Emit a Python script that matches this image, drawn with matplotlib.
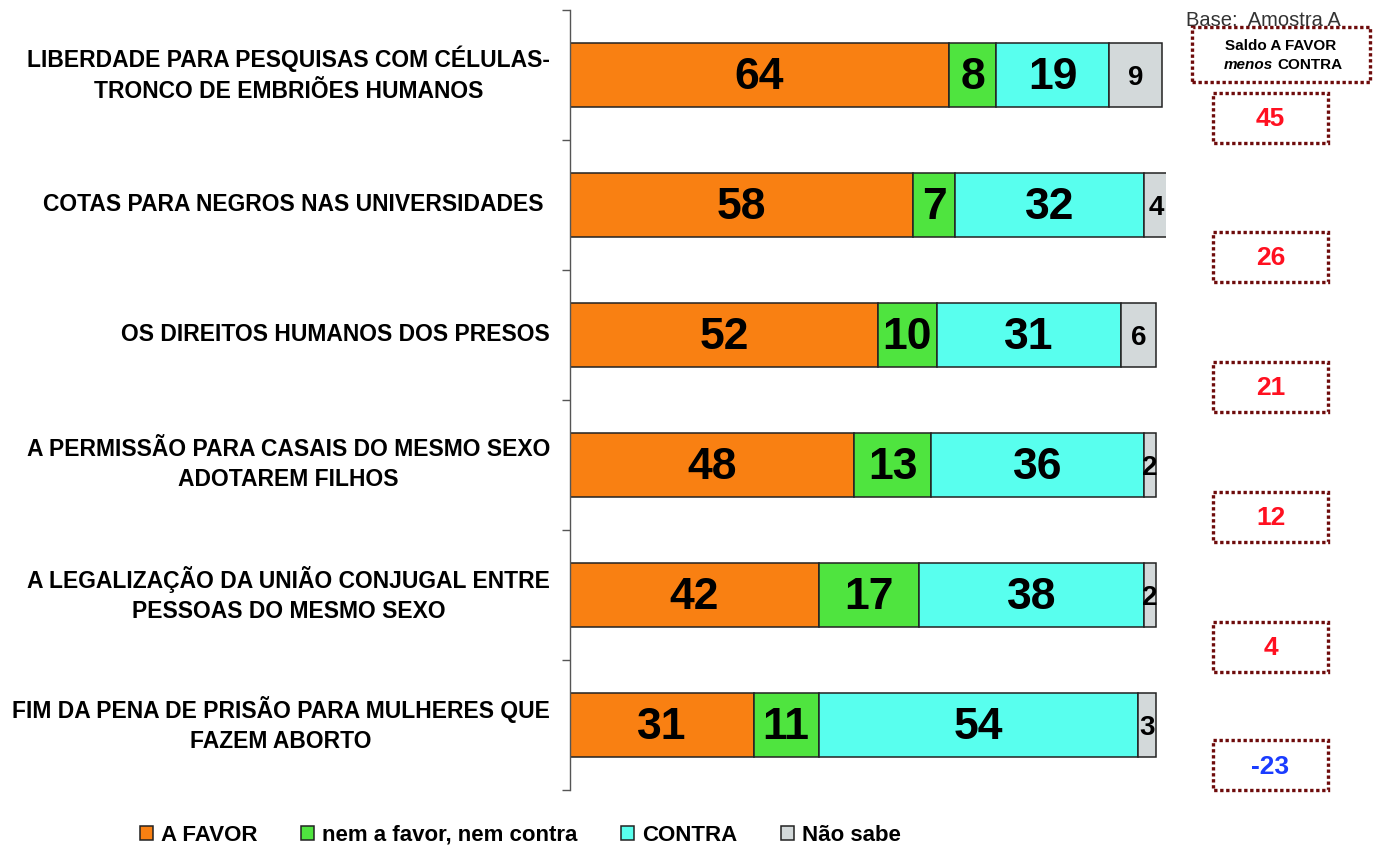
import matplotlib
matplotlib.use('Agg')
import matplotlib.pyplot as plt
import matplotlib.transforms as mtransforms
from matplotlib.patches import Rectangle
import numpy as np

# ---------------- data ----------------
categories = [
    "LIBERDADE PARA PESQUISAS COM CÉLULAS-\nTRONCO DE EMBRIÕES HUMANOS",
    "COTAS PARA NEGROS NAS UNIVERSIDADES ",
    "OS DIREITOS HUMANOS DOS PRESOS",
    "A PERMISSÃO PARA CASAIS DO MESMO SEXO\nADOTAREM FILHOS",
    "A LEGALIZAÇÃO DA UNIÃO CONJUGAL ENTRE\nPESSOAS DO MESMO SEXO",
    "FIM DA PENA DE PRISÃO PARA MULHERES QUE\nFAZEM ABORTO",
]
favor = [64, 58, 52, 48, 42, 31]
neutro = [8, 7, 10, 13, 17, 11]
contra = [19, 32, 31, 36, 38, 54]
nao_sabe = [9, 4, 6, 2, 2, 3]
saldo = [45, 26, 21, 12, 4, -23]
series_names = ["A FAVOR", "nem a favor, nem contra", "CONTRA", "Não sabe"]
colors = ["#F98012", "#4FE43F", "#58FFEE", "#D3D9DA"]

# ---------------- layout ----------------
W, H = 1373, 846
fig = plt.figure(figsize=(W / 100, H / 100), dpi=100)


def fx(px):
    return px / W


def fy(py):
    return 1 - py / H


SANS = ["Liberation Sans", "DejaVu Sans"]

ax = fig.add_axes([fx(570), fy(790), (5.92 * 100.7) / W, (790 - 10) / H])
y = np.arange(len(categories))
left = np.zeros(len(categories))
series = [favor, neutro, contra, nao_sabe]
handles = []
for si, (vals, name, col) in enumerate(zip(series, series_names, colors)):
    vals = np.array(vals, dtype=float)
    bars = ax.barh(y, vals, left=left, height=0.49, color=col,
                   edgecolor="#222222", linewidth=1.1, label=name)
    handles.append(bars)
    for yi, (l, v) in enumerate(zip(left, vals)):
        big = si < 3
        ax.text(l + v / 2, yi + 0.02, f"{int(v)}", ha="center", va="center",
                fontsize=32 if big else 20, fontweight="bold",
                family=SANS, color="black", clip_on=False)
    left += vals

ax.set_xlim(0, 100.7)
ax.set_ylim(len(categories) - 0.5, -0.5)
ax.set_xticks([])
for s in ["top", "right", "bottom"]:
    ax.spines[s].set_visible(False)
ax.spines["left"].set_color("#555555")
ax.spines["left"].set_linewidth(1.0)

# category labels (right-aligned block, centred lines)
ax.set_yticks(y)
ax.set_yticklabels([""] * len(categories))
ax.tick_params(axis="y", which="major", length=0)
lab_trans = mtransforms.blended_transform_factory(fig.transFigure, ax.transData)
for yi, cat in enumerate(categories):
    ax.text(fx(550), yi - 0.005, cat, transform=lab_trans, ha="right",
            va="center", multialignment="center", fontsize=16.5,
            fontweight="bold", family=SANS, linespacing=1.42, clip_on=False)
ax.set_yticks(np.arange(-0.5, len(categories), 1), minor=True)
ax.tick_params(axis="y", which="minor", length=6, width=1, color="#555555")

# ---------------- saldo boxes ----------------
trans = mtransforms.blended_transform_factory(fig.transFigure, ax.transData)
box_offsets = [0.33, 0.4, 0.4, 0.4, 0.4, 0.31]
box_h = 50 / 130
for yi, (val, off) in enumerate(zip(saldo, box_offsets)):
    yc = yi + off
    r = Rectangle((fx(1213), yc - box_h / 2), fx(115), box_h, transform=trans,
                  facecolor="none", edgecolor="#6E0B0B", linewidth=2.4,
                  linestyle=(0, (1, 0.8)), clip_on=False, zorder=3)
    r.set_capstyle("butt")
    fig.add_artist(r)
    fig.text(fx(1270.5), yc + 0.01, f"{val}", transform=trans, ha="center",
             va="center", fontsize=19, fontweight="bold", family=SANS,
             color="#FF1020" if val >= 0 else "#1A3CFF", zorder=4)

# header
fig.text(fx(1186), fy(20), "Base:  Amostra A", ha="left", va="center",
         fontsize=14.5, family=SANS, color="#333333", zorder=1)
hdr = Rectangle((fx(1192), fy(82)), fx(1370 - 1192), (82 - 27) / H,
                transform=fig.transFigure, facecolor="none", edgecolor="#6E0B0B",
                linewidth=2.4, linestyle=(0, (1, 0.8)), zorder=3)
hdr.set_capstyle("butt")
fig.add_artist(hdr)
fig.text(fx(1281), fy(46), "Saldo A FAVOR", ha="center", va="center",
         fontsize=11, fontweight="bold", family=SANS, color="black")
fig.text(fx(1273), fy(65), "menos", ha="right", va="center", fontsize=11,
         fontweight="bold", fontstyle="italic", family=SANS, color="black")
fig.text(fx(1277), fy(65), "CONTRA", ha="left", va="center", fontsize=11,
         fontweight="bold", family=SANS, color="black")

# ---------------- legend ----------------
fig.legend(handles, series_names, loc="center left",
           bbox_to_anchor=(fx(140), fy(835)), ncol=4, frameon=False,
           handlelength=0.58, handleheight=0.58, handletextpad=0.38,
           columnspacing=1.95, borderpad=0, borderaxespad=0,
           prop=dict(family=SANS, weight="bold", size=16))

fig.savefig("out.png", dpi=100)
